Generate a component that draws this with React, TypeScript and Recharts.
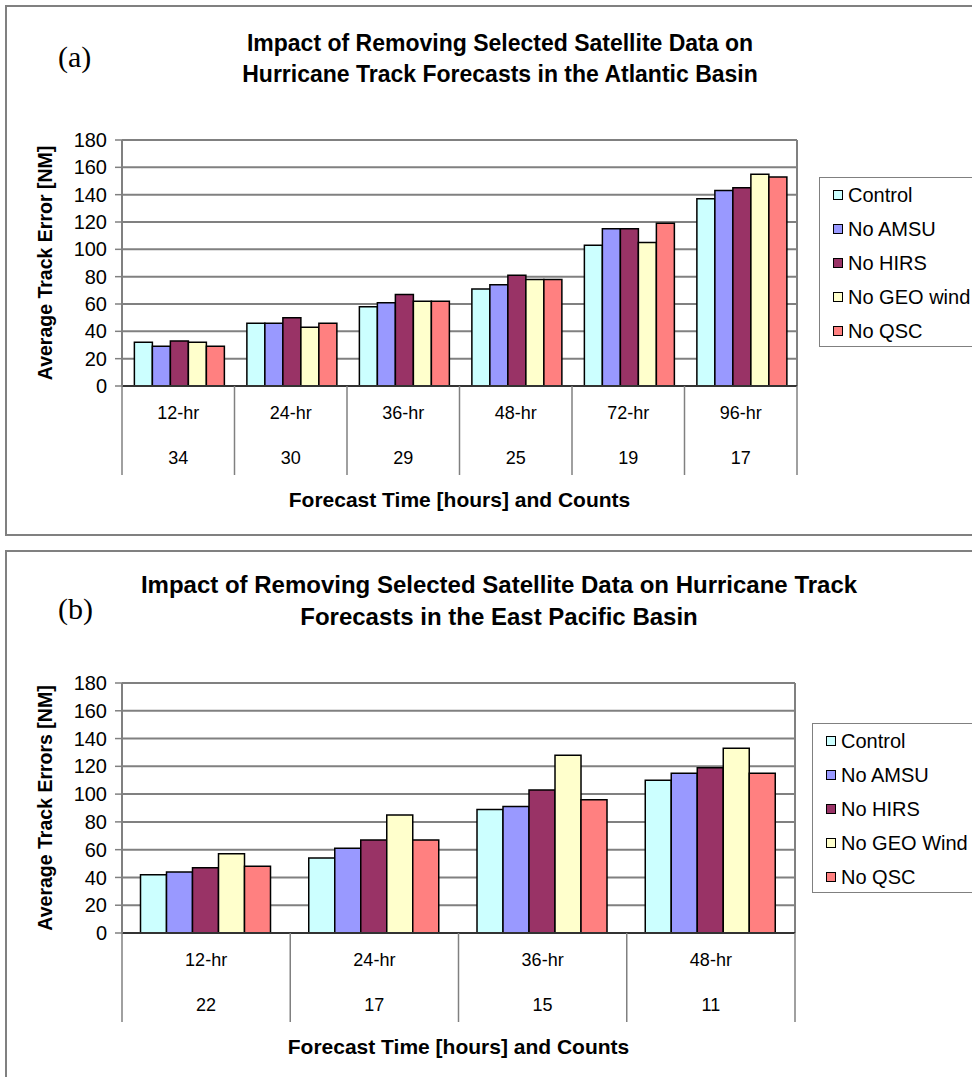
import { Bar, BarChart, CartesianGrid, Legend, XAxis, YAxis } from 'recharts'

const seriesKeys = ['control', 'noAmsu', 'noHirs', 'noGeo', 'noQsc']
const seriesColors = ['#CCFFFF', '#9999FF', '#993366', '#FFFFCC', '#FF8080']

// (a) Atlantic basin
const atlHours = ['12-hr', '24-hr', '36-hr', '48-hr', '72-hr', '96-hr']
const atlCounts = [34, 30, 29, 25, 19, 17]
const atlNames = ['Control', 'No AMSU', 'No HIRS', 'No GEO wind', 'No QSC']
const atlControl = [32, 46, 58, 71, 103, 137]
const atlNoAmsu = [29, 46, 61, 74, 115, 143]
const atlNoHirs = [33, 50, 67, 81, 115, 145]
const atlNoGeo = [32, 43, 62, 78, 105, 155]
const atlNoQsc = [29, 46, 62, 78, 119, 153]

// (b) East Pacific basin
const pacHours = ['12-hr', '24-hr', '36-hr', '48-hr']
const pacCounts = [22, 17, 15, 11]
const pacNames = ['Control', 'No AMSU', 'No HIRS', 'No GEO Wind', 'No QSC']
const pacControl = [42, 54, 89, 110]
const pacNoAmsu = [44, 61, 91, 115]
const pacNoHirs = [47, 67, 103, 119]
const pacNoGeo = [57, 85, 128, 133]
const pacNoQsc = [48, 67, 96, 115]

const yTicks = [0, 20, 40, 60, 80, 100, 120, 140, 160, 180]

const font = '"Liberation Sans", Arial, sans-serif'
const serif = '"Liberation Serif", "Times New Roman", serif'

const buildRows = (hours: string[], counts: number[], cols: number[][]) =>
  hours.map((h, i) => {
    const row: any = { hour: h, count: counts[i] }
    seriesKeys.forEach((k, j) => {
      row[k] = cols[j][i]
    })
    return row
  })

const atlData = buildRows(atlHours, atlCounts, [atlControl, atlNoAmsu, atlNoHirs, atlNoGeo, atlNoQsc])
const pacData = buildRows(pacHours, pacCounts, [pacControl, pacNoAmsu, pacNoHirs, pacNoGeo, pacNoQsc])

const SplitTick = (props: any) => {
  const { x, y, payload, index, rows, band } = props
  const half = payload.offset ? payload.offset : band / 2
  const last = index === rows.length - 1
  return (
    <g>
      <line x1={x - half} x2={x - half} y1={y} y2={y + 89} stroke="#808080" strokeWidth={1.5} />
      {last && <line x1={x + half} x2={x + half} y1={y} y2={y + 89} stroke="#808080" strokeWidth={1.5} />}
      <text x={x} y={y + 28} textAnchor="middle" dominantBaseline="middle" fontSize={18} fontFamily={font} fill="#000">
        {payload.value}
      </text>
      <text x={x} y={y + 73} textAnchor="middle" dominantBaseline="middle" fontSize={18} fontFamily={font} fill="#000">
        {rows[index] ? rows[index].count : ''}
      </text>
    </g>
  )
}

const LegendBox = ({ payload }: any) => {
  const items = [...(payload || [])].sort(
    (a: any, b: any) => seriesKeys.indexOf(a.dataKey) - seriesKeys.indexOf(b.dataKey)
  )
  return (
    <div
      style={{
        border: '1.5px solid #808080',
        background: '#fff',
        width: 180,
        height: 170,
        boxSizing: 'border-box',
        fontFamily: font,
        fontSize: 20,
      }}
    >
      {items.map((p: any) => (
        <div key={p.value} style={{ height: 34, display: 'flex', alignItems: 'center', whiteSpace: 'nowrap' }}>
          <span
            style={{
              display: 'inline-block',
              width: 8,
              height: 8,
              marginLeft: 13,
              marginRight: 5,
              background: p.color,
              border: '1px solid #000',
            }}
          />
          {p.value}
        </div>
      ))}
    </div>
  )
}

const Panel = ({ rows, names, yTitle, top, height, legendLeft, legendTop, right }: any) => {
  const plotW = 972 - 122 - right
  return (
    <div style={{ position: 'absolute', left: 0, top }}>
      <BarChart
        width={972}
        height={height}
        data={rows}
        margin={{ top: 15, right, bottom: 0, left: 30 }}
        barGap={0}
        barCategoryGap="11%"
      >
        <CartesianGrid
          stroke="#808080"
          strokeWidth={2}
          verticalCoordinatesGenerator={({ offset }: any) => [offset.left + offset.width]}
        />
        <XAxis
          dataKey="hour"
          height={125}
          tickSize={0}
          tickMargin={0}
          tickLine={false}
          axisLine={{ stroke: '#333', strokeWidth: 2 }}
          interval={0}
          tick={<SplitTick rows={rows} band={plotW / rows.length} />}
          label={{
            value: 'Forecast Time [hours] and Counts',
            position: 'insideBottom',
            offset: 4,
            style: { fontFamily: font, fontSize: 21, fontWeight: 'bold', fill: '#000' },
          }}
        />
        <YAxis
          domain={[0, 180]}
          ticks={yTicks}
          width={92}
          tickSize={7}
          tickMargin={8}
          interval={0}
          axisLine={{ stroke: '#808080', strokeWidth: 2 }}
          tickLine={{ stroke: '#808080', strokeWidth: 1.5 }}
          tick={{ fontFamily: font, fontSize: 20, fill: '#000' }}
          label={{
            value: yTitle,
            angle: -90,
            position: 'insideLeft',
            offset: 15,
            style: { textAnchor: 'middle', fontFamily: font, fontSize: 19.5, fontWeight: 'bold', fill: '#000' },
          }}
        />
        <Legend
          layout="vertical"
          align="center"
          verticalAlign="middle"
          content={<LegendBox />}
          wrapperStyle={{ position: 'absolute', left: legendLeft, top: legendTop, width: 180 }}
        />
        {seriesKeys.map((k, i) => (
          <Bar
            key={k}
            dataKey={k}
            name={names[i]}
            fill={seriesColors[i]}
            stroke="#000"
            strokeWidth={1.5}
            isAnimationActive={false}
          />
        ))}
      </BarChart>
    </div>
  )
}

const App = () => {
  return (
    <div
      style={{
        position: 'absolute',
        left: 0,
        top: 0,
        width: 972,
        height: 1077,
        overflow: 'hidden',
        background: '#fff',
      }}
    >
      <div
        style={{
          position: 'absolute',
          left: 5,
          top: 5,
          width: 1000,
          height: 527,
          border: '2px solid #808080',
        }}
      />
      <div
        style={{
          position: 'absolute',
          left: 5,
          top: 550,
          width: 1000,
          height: 600,
          border: '2px solid #808080',
        }}
      />

      <Panel
        rows={atlData}
        names={atlNames}
        yTitle="Average Track Error [NM]"
        top={125}
        height={386}
        legendLeft={819}
        legendTop={52}
        right={175}
      />
      <Panel
        rows={pacData}
        names={pacNames}
        yTitle="Average Track Errors [NM]"
        top={668}
        height={390}
        legendLeft={812}
        legendTop={55}
        right={177}
      />

      <div style={{ position: 'absolute', left: 58, top: 40, fontFamily: serif, fontSize: 30 }}>(a)</div>
      <div
        style={{
          position: 'absolute',
          left: 150,
          top: 28,
          width: 700,
          textAlign: 'center',
          fontFamily: font,
          fontSize: 23,
          fontWeight: 'bold',
          lineHeight: '31px',
        }}
      >
        Impact of Removing Selected Satellite Data on
        <br />
        Hurricane Track Forecasts in the Atlantic Basin
      </div>

      <div style={{ position: 'absolute', left: 58, top: 592, fontFamily: serif, fontSize: 30 }}>(b)</div>
      <div
        style={{
          position: 'absolute',
          left: 99,
          top: 569,
          width: 800,
          textAlign: 'center',
          fontFamily: font,
          fontSize: 24,
          fontWeight: 'bold',
          lineHeight: '32px',
        }}
      >
        Impact of Removing Selected Satellite Data on Hurricane Track
        <br />
        Forecasts in the East Pacific Basin
      </div>
    </div>
  )
}

export default App
